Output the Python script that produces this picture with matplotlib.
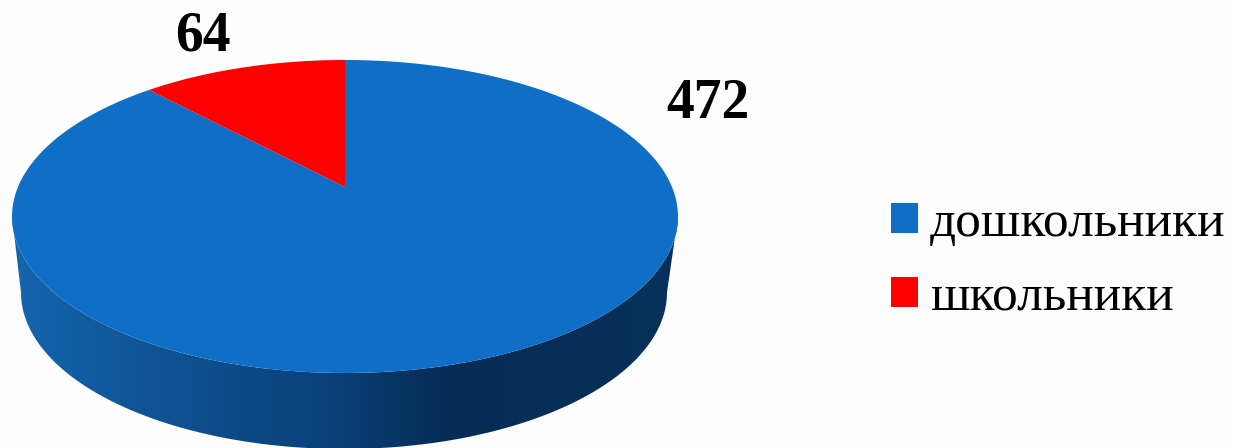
import numpy as np
import matplotlib
matplotlib.use('Agg')
import matplotlib.pyplot as plt
from matplotlib.colors import LinearSegmentedColormap
from matplotlib.patches import Patch, Polygon

categories = ['дошкольники', 'школьники']
values = [472, 64]
colors = ['#0F6EC6', '#FF0000']

plt.rcParams['font.family'] = ['Liberation Serif', 'DejaVu Serif']
BG = '#FDFDFD'

# perspective of the tilted disc, in pixels around the centre of the top ellipse
TILT = 0.1885
RX = 327
RY = 156.5
APEX = 29.5
DEPTH = 76


def project(theta):
    # theta is clockwise from 12 o'clock
    x = np.sin(theta)
    y = np.cos(theta)
    d = 1 + TILT * y
    return RX * x / d, (RY * y + APEX) / d


fig = plt.figure(figsize=(12.34, 4.48), dpi=100, facecolor=BG)
ax = fig.add_axes([0, 0, 1, 1])
ax.set_xlim(-345, 889)
ax.set_ylim(-231.5, 216.5)
ax.axis('off')

# side wall with left to right shading, runs between the widest points of the rim
widest = np.arccos(-TILT)
rim = np.linspace(widest, 2 * np.pi - widest, 200)
tx, ty = project(rim)
bx = tx * 0.97 - 1
by = ty - DEPTH
wall = np.vstack([np.column_stack([tx, ty]), np.column_stack([bx, by])[::-1]])
shade = LinearSegmentedColormap.from_list('wall', [
    (0.0, '#1565AE'), (0.16, '#10579B'), (0.5, '#0A3F76'),
    (0.65, '#052C55'), (1.0, '#07305A')])
img = ax.imshow(np.linspace(0, 1, 400).reshape(1, -1), cmap=shade, aspect='auto',
                extent=(-335, 335, -240, 20), zorder=1)
img.set_clip_path(Polygon(wall, transform=ax.transData))
ax.set_xlim(-345, 889)
ax.set_ylim(-231.5, 216.5)

# top face, red slice ends at 12 o'clock
total = sum(values)
start = 0
for v, c in zip(values, colors):
    end = start + 2 * np.pi * v / total
    t = np.linspace(start, end, 300)
    px, py = project(t)
    ax.fill(np.r_[0, px], np.r_[APEX, py], color=c, lw=0, zorder=2)
    start = end

ax.text(363, 113, str(values[0]), fontsize=40, fontweight='bold', color='black',
        ha='center', va='center')
ax.text(-142, 180, str(values[1]), fontsize=40, fontweight='bold', color='black',
        ha='center', va='center')

handles = [Patch(color=c, lw=0) for c in colors]
ax.legend(handles, categories, loc='center left', bbox_to_anchor=(0.722, 0.417),
          frameon=False, fontsize=37, handlelength=0.525, handleheight=0.525,
          handletextpad=0.23, labelspacing=0.54, borderpad=0, borderaxespad=0,
          labelcolor='black')

fig.savefig('out.png', dpi=100, facecolor=BG)
